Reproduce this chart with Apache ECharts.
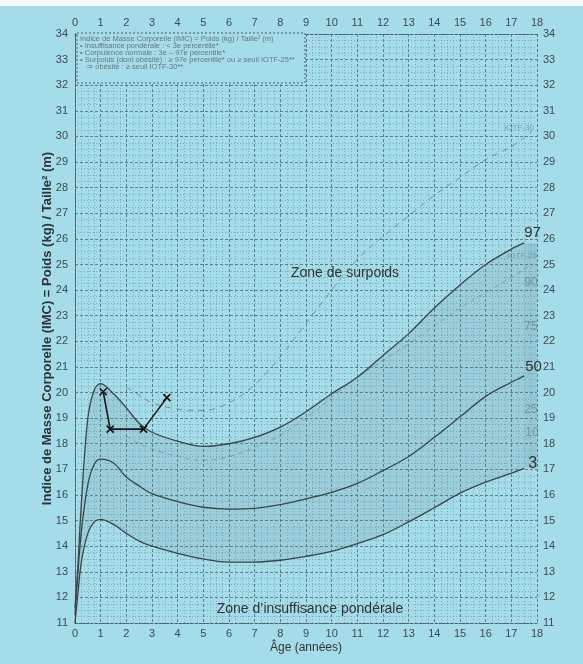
<!DOCTYPE html>
<html><head><meta charset="utf-8">
<script src="https://cdn.jsdelivr.net/npm/echarts/dist/echarts.min.js"></script>
<style>html,body{margin:0;padding:0;background:#a5dcea;}#c{width:583px;height:664px;}</style>
</head><body><div id="c"></div>
<script>
// ---- data ----
const ages = [0, 0.1, 0.25, 0.5, 0.75, 1, 1.5, 2, 2.5, 3, 4, 5, 6, 7, 8, 9, 10, 11, 12, 13, 14, 15, 16, 17, 17.5];
const p3   = [11.0, 12.0, 13.4, 14.5, 14.95, 15.05, 14.85, 14.5, 14.2, 14.0, 13.72, 13.5, 13.38, 13.38, 13.45, 13.6, 13.8, 14.1, 14.45, 14.95, 15.5, 16.07, 16.5, 16.85, 17.04];
const p50  = [11.3, 12.8, 14.6, 16.4, 17.2, 17.4, 17.25, 16.7, 16.35, 16.05, 15.74, 15.52, 15.45, 15.48, 15.62, 15.85, 16.1, 16.45, 16.95, 17.5, 18.25, 19.05, 19.85, 20.4, 20.65];
const p97  = [11.6, 13.0, 15.7, 19.0, 20.1, 20.35, 19.95, 19.4, 18.8, 18.45, 18.1, 17.9, 18.0, 18.25, 18.65, 19.25, 19.95, 20.6, 21.45, 22.3, 23.3, 24.2, 25.0, 25.6, 25.84];
const iotfAges = [2, 2.5, 3, 4, 5, 6, 7, 8, 9, 10, 11, 12, 13, 14, 15, 16, 17, 17.8];
const iotf30 = [20.2, 19.9, 19.6, 19.35, 19.3, 19.6, 20.3, 21.4, 22.7, 24.0, 25.2, 26.1, 26.9, 27.7, 28.4, 29.1, 29.6, 30.2];
const iotf25 = [18.3, 18.0, 17.8, 17.5, 17.35, 17.5, 17.85, 18.35, 19.0, 19.8, 20.6, 21.25, 21.9, 22.6, 23.3, 23.9, 24.5, 25.0];
const childAges = [1.1, 1.37, 2.67, 3.58];
const childBmi  = [20.03, 18.57, 18.57, 19.8];
const xTickMin = 0, xTickMax = 18, yTickMin = 11, yTickMax = 34;
const infoLines = [
  'Indice de Masse Corporelle (IMC) = Poids (kg) / Taille² (m)',
  '• Insuffisance pondérale : < 3e percentile*',
  '• Corpulence normale : 3e – 97e percentile*',
  '• Surpoids (dont obésité) : ≥ 97e percentile* ou ≥ seuil IOTF-25**',
  '   ⇒ obésité : ≥ seuil IOTF-30**'
];

const pair = (xs, ys) => xs.map((x, i) => [x, ys[i]]);
const lastAge = ages[ages.length - 1];

const BG = '#a5dcea';
const BAND = 'rgba(70,100,108,0.16)';
const FONT = '"Liberation Sans Narrow", "Liberation Sans", Arial, sans-serif';
const gridMajor = {show: true, lineStyle: {color: '#5f818a', width: 1, type: [3, 2]}};
const gridMinor = {show: true, lineStyle: {color: 'rgba(95,135,145,0.55)', width: 1, type: [1, 2]}};
const axisLine = {show: true, lineStyle: {color: '#4b5e63', width: 1, type: [2, 2]}};
const lbl = {color: '#3f4a4d', fontSize: 11, fontFamily: FONT};
const curve = {color: '#3b4447', width: 1.3};
const SM = 0.35;

const chart = echarts.init(document.getElementById('c'));
chart.setOption({
  backgroundColor: BG,
  animation: false,
  grid: {left: 75, right: 46, top: 34, bottom: 41},
  xAxis: [
    {type: 'value', min: xTickMin, max: xTickMax, interval: 1, position: 'bottom', z: 3,
     name: 'Âge (années)', nameLocation: 'middle', nameGap: 19, nameMoveOverlap: false,
     nameTextStyle: {color: '#333', fontSize: 12, fontFamily: FONT},
     axisLine, axisTick: {show: false}, axisLabel: {...lbl, margin: 5},
     splitLine: gridMajor, minorTick: {show: false, splitNumber: 4}, minorSplitLine: gridMinor},
    {type: 'value', min: xTickMin, max: xTickMax, interval: 1, position: 'top', z: 3,
     axisLine, axisTick: {show: false}, axisLabel: {...lbl, margin: 6}, splitLine: {show: false}}
  ],
  yAxis: [
    {type: 'value', min: yTickMin, max: yTickMax, interval: 1, position: 'left', z: 3,
     name: 'Indice de Masse Corporelle (IMC) = Poids (kg) / Taille² (m)',
     nameLocation: 'middle', nameGap: 21, nameRotate: 90, nameMoveOverlap: false,
     nameTextStyle: {color: '#2e3436', fontSize: 13, fontWeight: 'bold', fontFamily: FONT},
     axisLine, axisTick: {show: false}, axisLabel: {...lbl, margin: 7},
     splitLine: gridMajor, minorTick: {show: false, splitNumber: 4}, minorSplitLine: gridMinor},
    {type: 'value', min: yTickMin, max: yTickMax, interval: 1, position: 'right', z: 3,
     axisLine, axisTick: {show: false}, axisLabel: {...lbl, margin: 6}, splitLine: {show: false}}
  ],
  series: [
    // shaded band between P3 and P97: P97 area down to axis, masked below P3 with background
    {name: 'bande97', type: 'line', data: pair(ages, p97), smooth: SM, symbol: 'none',
     lineStyle: {opacity: 0}, silent: true, z: 1, areaStyle: {color: BAND, origin: 'start'}},
    {name: 'masque3', type: 'line', data: pair(ages, p3), smooth: SM, symbol: 'none',
     lineStyle: {opacity: 0}, silent: true, z: 2, areaStyle: {color: BG, opacity: 1, origin: 'start'}},
    {name: 'bandeDroite', type: 'custom', silent: true, z: 2,
     data: [[lastAge, p3[p3.length - 1], xTickMax, p97[p97.length - 1]]],
     renderItem: (params, api) => {
       const a = api.coord([api.value(0), api.value(1)]);
       const b = api.coord([api.value(2), api.value(3)]);
       return {type: 'rect', shape: {x: a[0], y: b[1], width: b[0] - a[0], height: a[1] - b[1]}, style: {fill: BAND}};
     }},
    {name: 'IOTF-25', type: 'line', data: pair(iotfAges, iotf25), smooth: SM, symbol: 'none',
     lineStyle: {color: 'rgba(70,90,95,0.35)', width: 1, type: [5, 4]}, z: 4},
    {name: 'IOTF-30', type: 'line', data: pair(iotfAges, iotf30), smooth: SM, symbol: 'none',
     lineStyle: {color: 'rgba(80,100,105,0.6)', width: 1, type: [6, 5]}, z: 4},
    {name: 'P3', type: 'line', data: pair(ages, p3), smooth: SM, symbol: 'none', lineStyle: curve, z: 5,
     endLabel: {show: true, formatter: '3', fontSize: 16, color: '#333', fontFamily: FONT, distance: 4, offset: [0, -5]}},
    {name: 'P50', type: 'line', data: pair(ages, p50), smooth: SM, symbol: 'none', lineStyle: curve, z: 5,
     endLabel: {show: true, formatter: '50', fontSize: 15, color: '#333', fontFamily: FONT, distance: 1, offset: [0, -9]}},
    {name: 'P97', type: 'line', data: pair(ages, p97), smooth: SM, symbol: 'none', lineStyle: curve, z: 5,
     endLabel: {show: true, formatter: '97', fontSize: 15, color: '#333', fontFamily: FONT, distance: 0, offset: [0, -10]}},
    {name: 'enfant', type: 'line', data: pair(childAges, childBmi), symbol: 'path://M0 0L10 10M10 0L0 10',
     symbolSize: 7, itemStyle: {color: 'rgba(0,0,0,0)', borderColor: '#141414', borderWidth: 1.6},
     lineStyle: {color: '#1a1a1a', width: 1.6}, z: 6}
  ],
  graphic: [
    {type: 'rect', shape: {x: 0, y: 0, width: 583, height: 6}, style: {fill: '#f4f8f8'}, silent: true},
    {type: 'rect', shape: {x: 77, y: 33, width: 228, height: 50}, z: 10,
     style: {fill: BG, stroke: '#4b5e63', lineWidth: 1, lineDash: [2, 2]}},
    ...infoLines.map((t, i) => ({type: 'text', x: 80, y: 35 + i * 7, z: 11,
      style: {text: t, fill: '#66787d', fontSize: 7.5, fontFamily: FONT}})),
    {type: 'text', x: 345, y: 273, z: 11,
     style: {text: 'Zone de surpoids', fill: '#333', fontSize: 14, fontFamily: FONT, align: 'center', verticalAlign: 'middle'}},
    {type: 'text', x: 310, y: 609, z: 11,
     style: {text: 'Zone d\u2019insuffisance pondérale', fill: '#333', fontSize: 14, fontFamily: FONT, align: 'center', verticalAlign: 'middle'}},
    ...[['IOTF-30', 519, 128, 8], ['IOTF-25', 522, 256, 8], ['90', 531, 283, 12], ['75', 531, 327, 12], ['25', 531, 410, 12], ['10', 532, 433, 12]]
      .map(([t, x, y, s]) => ({type: 'text', x, y, z: 11,
        style: {text: t, fill: 'rgba(90,110,115,0.55)', fontSize: s, fontFamily: FONT, align: 'center', verticalAlign: 'middle'}}))
  ]
});
</script></body></html>
